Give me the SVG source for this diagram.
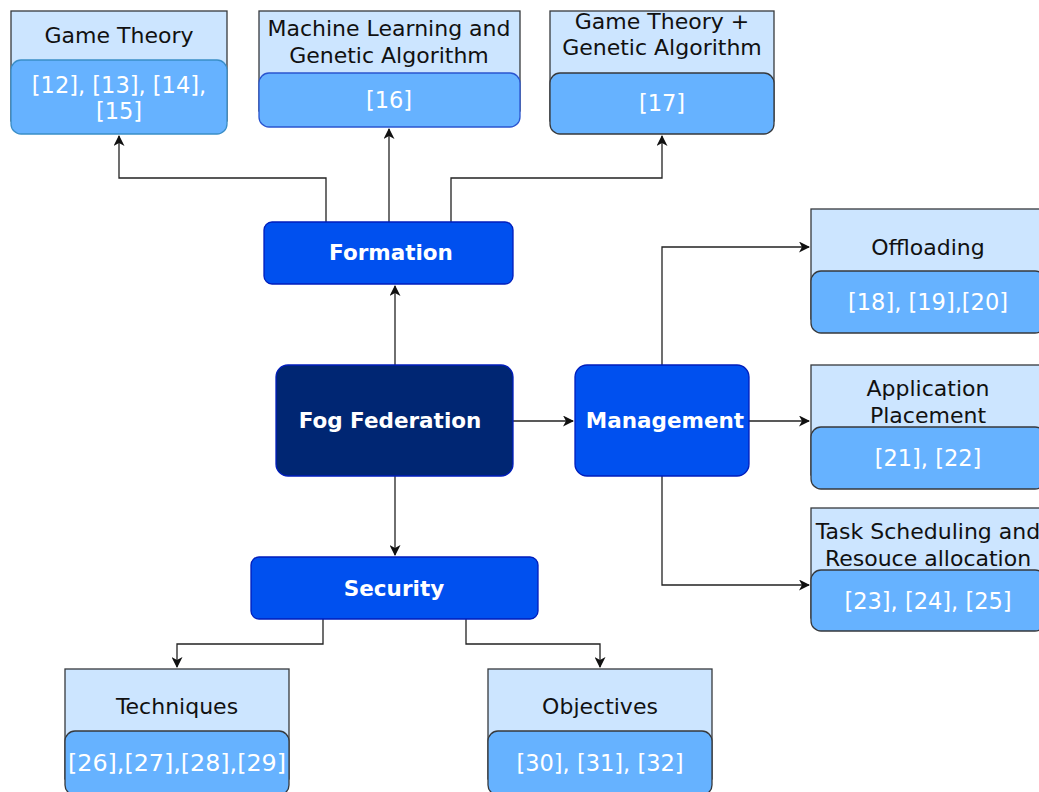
<svg xmlns="http://www.w3.org/2000/svg" width="1039" height="792" viewBox="0 0 1039 792">
<style>
.hdr{fill:#cce5ff;stroke:#36393d;stroke-width:1.3}
.ref{fill:#66b2ff;stroke:#36393d;stroke-width:1.3}
.t{font-family:"DejaVu Sans",Verdana,sans-serif;font-size:22px;fill:#111;text-anchor:middle}
.r{font-family:"DejaVu Sans",Verdana,sans-serif;font-size:22.5px;fill:#fff;text-anchor:middle}
.b{font-family:"DejaVu Sans",Verdana,sans-serif;font-size:21.5px;font-weight:bold;fill:#fff;text-anchor:middle}
.blue{fill:#0050ef;stroke:#001dbc;stroke-width:1.3}
.navy{fill:#002673;stroke:#001dbc;stroke-width:1.3}
.c{fill:none;stroke:#222;stroke-width:1.3}
</style>
<defs>
<marker id="a" markerWidth="11" markerHeight="11" refX="10" refY="5.5" orient="auto" markerUnits="userSpaceOnUse">
<path d="M0,0 L11,5.5 L0,11 L3,5.5 Z" fill="#111"/>
</marker>
</defs>
<g id="connectors">
<path class="c" d="M395,365 V286" marker-end="url(#a)"/>
<path class="c" d="M326,222 V178 H119 V136" marker-end="url(#a)"/>
<path class="c" d="M389,222 V129" marker-end="url(#a)"/>
<path class="c" d="M451,222 V178 H662 V136" marker-end="url(#a)"/>
<path class="c" d="M513,421 H573" marker-end="url(#a)"/>
<path class="c" d="M395,476 V555" marker-end="url(#a)"/>
<path class="c" d="M662,365 V247 H809" marker-end="url(#a)"/>
<path class="c" d="M749,421 H809" marker-end="url(#a)"/>
<path class="c" d="M662,476 V585 H809" marker-end="url(#a)"/>
<path class="c" d="M323,619 V644 H177 V667" marker-end="url(#a)"/>
<path class="c" d="M466,619 V644 H600 V667" marker-end="url(#a)"/>
</g>
<g id="game-theory">
<rect class="hdr" x="11" y="11" width="216" height="110"/>
<rect class="ref" x="11" y="60" width="216" height="74" rx="10" style="stroke:#3a8ec8"/>
<text class="t" x="119" y="43">Game Theory</text>
<text class="r" x="119" y="93">[12], [13], [14],</text>
<text class="r" x="119" y="119">[15]</text>
</g>
<g id="ml-ga">
<rect class="hdr" x="259" y="11" width="261" height="100"/>
<rect class="ref" x="259" y="73" width="261" height="54" rx="10" style="stroke:#2a55d0"/>
<text class="t" x="389" y="36">Machine Learning and</text>
<text class="t" x="389" y="63">Genetic Algorithm</text>
<text class="r" x="389" y="108">[16]</text>
</g>
<g id="gt-ga">
<rect class="hdr" x="550" y="11" width="224" height="110"/>
<rect class="ref" x="550" y="73" width="224" height="61" rx="10"/>
<text class="t" x="662" y="29">Game Theory +</text>
<text class="t" x="662" y="55">Genetic Algorithm</text>
<text class="r" x="662" y="111">[17]</text>
</g>
<g id="formation">
<rect class="blue" x="264" y="222" width="249" height="62" rx="8"/>
<text class="b" x="391" y="260">Formation</text>
</g>
<g id="fog-federation">
<rect class="navy" x="276" y="365" width="237" height="111" rx="12"/>
<text class="b" x="390" y="428">Fog Federation</text>
</g>
<g id="management">
<rect class="blue" x="575" y="365" width="174" height="111" rx="12"/>
<text class="b" x="665" y="428">Management</text>
</g>
<g id="security">
<rect class="blue" x="251" y="557" width="287" height="62" rx="8"/>
<text class="b" x="394" y="596">Security</text>
</g>
<g id="offloading">
<rect class="hdr" x="811" y="209" width="234" height="110"/>
<rect class="ref" x="811" y="271" width="234" height="62" rx="10"/>
<text class="t" x="928" y="255">Offloading</text>
<text class="r" x="928" y="310">[18], [19],[20]</text>
</g>
<g id="app-placement">
<rect class="hdr" x="811" y="365" width="234" height="110"/>
<rect class="ref" x="811" y="427" width="234" height="62" rx="10"/>
<text class="t" x="928" y="396">Application</text>
<text class="t" x="928" y="423">Placement</text>
<text class="r" x="928" y="466">[21], [22]</text>
</g>
<g id="task-scheduling">
<rect class="hdr" x="811" y="508" width="234" height="110"/>
<rect class="ref" x="811" y="570" width="234" height="61" rx="10"/>
<text class="t" x="928" y="539">Task Scheduling and</text>
<text class="t" x="928" y="566">Resouce allocation</text>
<text class="r" x="928" y="609">[23], [24], [25]</text>
</g>
<g id="techniques">
<rect class="hdr" x="65" y="669" width="224" height="110"/>
<rect class="ref" x="65" y="731" width="224" height="64" rx="10"/>
<text class="t" x="177" y="714">Techniques</text>
<text class="r" x="177" y="771" textLength="218" lengthAdjust="spacingAndGlyphs">[26],[27],[28],[29]</text>
</g>
<g id="objectives">
<rect class="hdr" x="488" y="669" width="224" height="110"/>
<rect class="ref" x="488" y="731" width="224" height="64" rx="10"/>
<text class="t" x="600" y="714">Objectives</text>
<text class="r" x="600" y="771">[30], [31], [32]</text>
</g>
</svg>
